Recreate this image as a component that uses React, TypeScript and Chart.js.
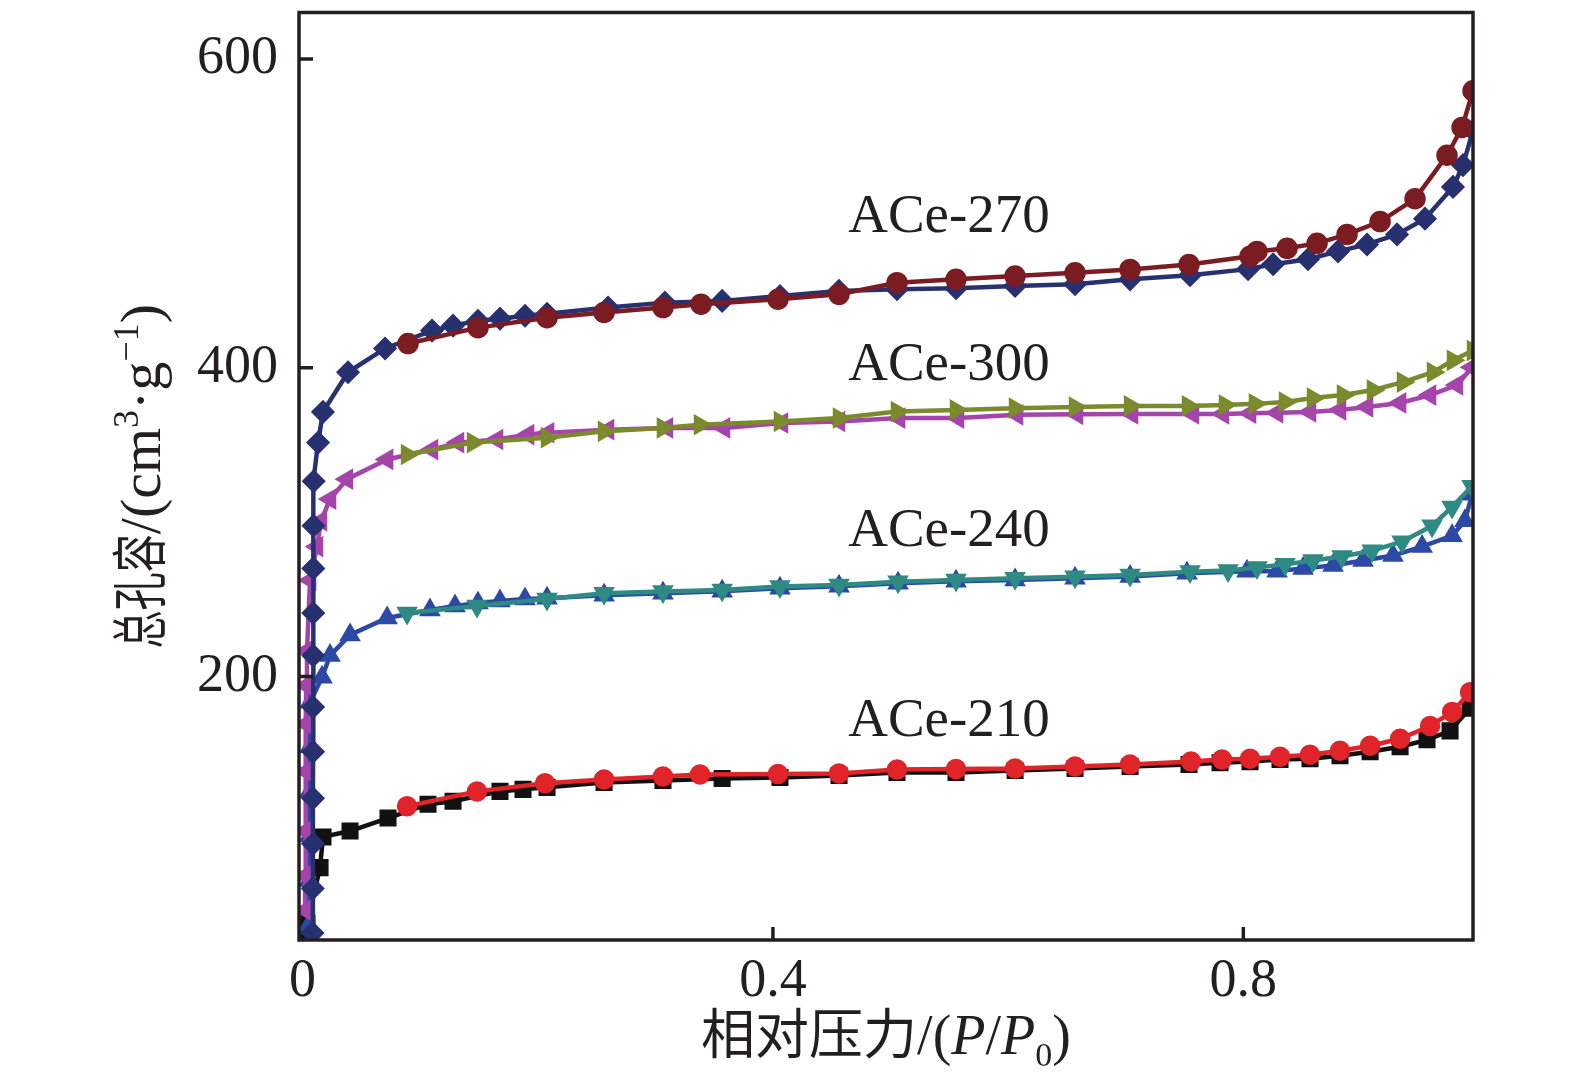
import { useEffect, useRef } from "react";
import { Chart, registerables } from "chart.js";

Chart.register(...registerables);

// ---- axes / labels ----
const xMin = -0.003;
const xMax = 0.9953;
const yMin = 29.2;
const yMax = 630.2;
const xTicks = [0, 0.4, 0.8];
const xTickLabels = ["0", "0.4", "0.8"];
const yTicks = [200, 400, 600];
const yTickLabels = ["200", "400", "600"];
const sampleNames = ["ACe-270", "ACe-300", "ACe-240", "ACe-210"];
const sampleLabelX = [0.464, 0.464, 0.464, 0.464];
const sampleLabelY = [497.3, 401.6, 293.7, 170.5];

// ---- ACe-270 ----
const ace270AdsX = [0.0085, 0.0087, 0.0089, 0.0089, 0.009, 0.009, 0.0091, 0.0091, 0.0092, 0.0093, 0.0095, 0.0132, 0.0174, 0.0387, 0.0702, 0.1101, 0.128, 0.1492, 0.1679, 0.1892, 0.2079, 0.2598, 0.3082, 0.3568, 0.406, 0.4562, 0.5055, 0.5557, 0.6059, 0.6569, 0.7037, 0.7547, 0.804, 0.8253, 0.855, 0.8805, 0.9052, 0.9307, 0.9545, 0.9783, 0.9868, 0.9953];
const ace270AdsY = [33.7, 62.6, 91.5, 121.0, 151.2, 180.1, 213.5, 241.1, 270.0, 297.6, 326.5, 351.5, 371.4, 397.1, 412.5, 424.1, 427.3, 430.5, 431.8, 433.7, 435.0, 439.0, 442.2, 443.3, 446.5, 449.8, 450.9, 451.5, 453.0, 454.1, 457.3, 460.0, 463.9, 467.1, 470.3, 475.4, 479.9, 486.4, 496.6, 517.2, 531.3, 553.8];
const ace270DesX = [0.0897, 0.1492, 0.2079, 0.2564, 0.3065, 0.3389, 0.4043, 0.4562, 0.5055, 0.5557, 0.6059, 0.6569, 0.7037, 0.7538, 0.8057, 0.8116, 0.8372, 0.8627, 0.8882, 0.9163, 0.946, 0.9732, 0.986, 0.9953];
const ace270DesY = [415.7, 426.0, 432.4, 435.8, 439.0, 441.2, 444.4, 447.6, 455.1, 457.3, 459.4, 461.5, 463.7, 466.9, 472.2, 475.4, 477.4, 480.6, 486.4, 494.7, 509.5, 537.7, 555.7, 579.5];

// ---- ACe-300 ----
const ace300AdsX = [0.0021, 0.0023, 0.0025, 0.0027, 0.0029, 0.0031, 0.0038, 0.0064, 0.0123, 0.0157, 0.0234, 0.0378, 0.0719, 0.1101, 0.1322, 0.1654, 0.1918, 0.2088, 0.2598, 0.3099, 0.3584, 0.4077, 0.4562, 0.5073, 0.5574, 0.6076, 0.6586, 0.7054, 0.7572, 0.7827, 0.8057, 0.8287, 0.8567, 0.8822, 0.9052, 0.9333, 0.9588, 0.9817, 0.9945];
const ace300AdsY = [48.5, 70.9, 99.8, 138.4, 169.2, 194.2, 216.7, 262.3, 284.1, 300.8, 314.9, 327.8, 340.6, 347.0, 351.5, 353.5, 356.7, 357.9, 359.9, 361.0, 361.0, 364.2, 365.2, 367.4, 367.4, 369.5, 369.8, 370.1, 370.1, 370.1, 370.5, 370.8, 371.4, 372.7, 374.6, 377.2, 382.3, 388.8, 400.3];
const ace300DesX = [0.0889, 0.145, 0.2079, 0.2564, 0.3065, 0.338, 0.406, 0.4562, 0.5055, 0.5557, 0.6059, 0.6569, 0.7037, 0.753, 0.7844, 0.8099, 0.8355, 0.8593, 0.8848, 0.9103, 0.9358, 0.9613, 0.9783, 0.9953];
const ace300DesY = [343.8, 351.5, 354.7, 358.8, 361.0, 363.1, 365.2, 367.4, 371.6, 372.7, 373.8, 374.6, 375.3, 375.3, 375.9, 376.6, 377.8, 380.4, 382.3, 385.6, 390.7, 397.1, 404.8, 411.2];

// ---- ACe-240 ----
const ace240AdsX = [0.0055, 0.0057, 0.0059, 0.0061, 0.0063, 0.0064, 0.0166, 0.0234, 0.0404, 0.0719, 0.1084, 0.1297, 0.1492, 0.1679, 0.1892, 0.2079, 0.2564, 0.3065, 0.3568, 0.406, 0.4562, 0.5064, 0.5557, 0.6059, 0.6569, 0.7037, 0.7521, 0.8031, 0.8287, 0.8508, 0.8763, 0.9018, 0.9273, 0.952, 0.9775, 0.9885, 0.9945];
const ace240AdsY = [38.9, 67.7, 96.6, 125.5, 154.4, 183.3, 199.4, 213.5, 226.9, 237.9, 243.0, 245.6, 247.5, 248.8, 250.1, 250.7, 252.6, 253.9, 255.2, 257.1, 258.4, 260.4, 261.6, 262.5, 263.6, 264.8, 266.8, 268.1, 268.1, 270.0, 271.9, 275.1, 278.3, 284.1, 291.2, 300.8, 318.1];
const ace240DesX = [0.0889, 0.1484, 0.2079, 0.2564, 0.3065, 0.3568, 0.406, 0.4562, 0.5064, 0.5557, 0.6059, 0.6569, 0.7037, 0.7547, 0.787, 0.8116, 0.8355, 0.8593, 0.8839, 0.9095, 0.935, 0.9605, 0.9775, 0.9945];
const ace240DesY = [241.1, 245.6, 250.1, 253.9, 255.0, 256.0, 258.2, 259.3, 261.4, 262.5, 263.6, 264.6, 265.7, 267.9, 268.7, 270.6, 272.6, 275.1, 277.7, 281.5, 287.3, 297.6, 309.8, 323.3];

// ---- ACe-210 ----
const ace210AdsX = [0.0021, 0.0038, 0.0149, 0.0174, 0.0404, 0.0727, 0.1067, 0.128, 0.1679, 0.1875, 0.2079, 0.2564, 0.3065, 0.3568, 0.406, 0.4562, 0.5055, 0.5557, 0.6059, 0.6569, 0.7037, 0.7538, 0.7802, 0.8057, 0.8312, 0.8567, 0.8822, 0.9078, 0.9333, 0.9562, 0.9758, 0.9928];
const ace210AdsY = [32.4, 40.1, 76.1, 96.0, 99.8, 108.2, 117.2, 119.1, 125.5, 126.8, 128.1, 131.3, 132.6, 133.9, 134.5, 135.8, 137.7, 137.7, 139.0, 140.3, 141.6, 142.9, 144.1, 144.8, 146.1, 146.7, 148.6, 151.2, 154.4, 158.9, 164.7, 179.4];
const ace210DesX = [0.0889, 0.1484, 0.2062, 0.2564, 0.3065, 0.338, 0.4043, 0.4562, 0.5055, 0.5557, 0.6059, 0.6569, 0.7037, 0.7555, 0.7819, 0.8057, 0.8312, 0.8567, 0.8822, 0.9078, 0.9333, 0.9588, 0.9775, 0.9928];
const ace210DesY = [115.9, 125.5, 130.7, 133.2, 135.2, 136.4, 136.7, 137.1, 139.7, 140.0, 140.3, 141.6, 142.9, 144.8, 146.1, 146.7, 148.0, 149.3, 151.8, 155.1, 159.6, 167.9, 176.9, 189.7];

const INK = "#231f20";
const SERIF = '"Liberation Serif", "Times New Roman", serif';
const CJK = '"Noto Sans CJK SC", sans-serif';

type Seg = { t: string; f: string; dy?: number; sx?: number };

function drawRich(ctx: CanvasRenderingContext2D, segs: Seg[], cx: number, y: number) {
  let total = 0;
  const widths: number[] = [];
  for (const s of segs) {
    ctx.font = s.f;
    const w = ctx.measureText(s.t).width * (s.sx ?? 1);
    widths.push(w);
    total += w;
  }
  let x = cx - total / 2;
  segs.forEach((s, i) => {
    ctx.save();
    ctx.font = s.f;
    ctx.translate(x, y + (s.dy ?? 0));
    ctx.scale(s.sx ?? 1, 1);
    ctx.textAlign = "left";
    ctx.textBaseline = "alphabetic";
    ctx.fillText(s.t, 0, 0);
    ctx.restore();
    x += widths[i];
  });
}

const decorPlugin = {
  id: "decor",
  afterDraw(chart: any) {
    const { ctx, chartArea: a, scales } = chart;
    const xs = scales.x;
    const ys = scales.y;
    ctx.save();
    ctx.strokeStyle = INK;
    ctx.lineWidth = 3.5;
    ctx.strokeRect(a.left, a.top, a.right - a.left, a.bottom - a.top);
    ctx.beginPath();
    yTicks.forEach((v) => {
      const p = ys.getPixelForValue(v);
      ctx.moveTo(a.left, p);
      ctx.lineTo(a.left + 14, p);
    });
    xTicks.forEach((v) => {
      if (v === 0) return;
      const p = xs.getPixelForValue(v);
      ctx.moveTo(p, a.bottom);
      ctx.lineTo(p, a.bottom - 13);
    });
    ctx.stroke();

    ctx.fillStyle = INK;
    ctx.font = `54px ${SERIF}`;
    ctx.textAlign = "right";
    ctx.textBaseline = "middle";
    yTicks.forEach((v, i) => ctx.fillText(yTickLabels[i], a.left - 21, ys.getPixelForValue(v)));
    ctx.textAlign = "center";
    xTicks.forEach((v, i) => ctx.fillText(xTickLabels[i], xs.getPixelForValue(v), a.bottom + 42));

    ctx.textAlign = "left";
    ctx.font = `55px ${SERIF}`;
    sampleNames.forEach((n, i) => {
      ctx.fillText(n, xs.getPixelForValue(sampleLabelX[i]), ys.getPixelForValue(sampleLabelY[i]));
    });

    // x title
    const cx = (a.left + a.right) / 2;
    drawRich(
      ctx,
      [
        { t: "相对压力", f: `54px ${CJK}` },
        { t: "/(", f: `56px ${SERIF}` },
        { t: "P", f: `italic 56px ${SERIF}` },
        { t: "/", f: `56px ${SERIF}` },
        { t: "P", f: `italic 56px ${SERIF}` },
        { t: "0", f: `34px ${SERIF}`, dy: 12 },
        { t: ")", f: `56px ${SERIF}` },
      ],
      cx,
      a.bottom + 114
    );

    // y title
    ctx.save();
    ctx.translate(160, (a.top + a.bottom) / 2);
    ctx.rotate(-Math.PI / 2);
    drawRich(
      ctx,
      [
        { t: "总孔容", f: `56px ${CJK}`, sx: 0.68 },
        { t: "/(cm", f: `58px ${SERIF}` },
        { t: "3", f: `36px ${SERIF}`, dy: -22 },
        { t: "·g", f: `58px ${SERIF}` },
        { t: "−1", f: `36px ${SERIF}`, dy: -22 },
        { t: ")", f: `58px ${SERIF}` },
      ],
      0,
      0
    );
    ctx.restore();
    ctx.restore();
  },
};

function series(
  label: string,
  xs: number[],
  ys: number[],
  color: string,
  pointStyle: string,
  radius: number,
  rotation = 0
) {
  return {
    label,
    data: xs.map((x, i) => ({ x, y: ys[i] })),
    borderColor: color,
    backgroundColor: color,
    borderWidth: 4.5,
    pointStyle,
    pointRadius: radius,
    pointHoverRadius: radius,
    pointBorderWidth: 1.5,
    pointBorderColor: color,
    pointBackgroundColor: color,
    pointRotation: rotation,
    tension: 0,
    fill: false,
  };
}

export default function App() {
  const ref = useRef<HTMLCanvasElement>(null);
  useEffect(() => {
    if (!ref.current) return;
    const chart = new Chart(ref.current, {
      type: "line",
      data: {
        datasets: [
          series("ACe-270 desorption", ace270DesX, ace270DesY, "#7a1c22", "circle", 10),
          series("ACe-270 adsorption", ace270AdsX, ace270AdsY, "#283170", "rectRot", 11),
          series("ACe-300 desorption", ace300DesX, ace300DesY, "#7a8a2c", "triangle", 11, 90),
          series("ACe-300 adsorption", ace300AdsX, ace300AdsY, "#a544aa", "triangle", 11, -90),
          series("ACe-240 desorption", ace240DesX, ace240DesY, "#2e8a82", "triangle", 11, 180),
          series("ACe-240 adsorption", ace240AdsX, ace240AdsY, "#2c49a6", "triangle", 11),
          series("ACe-210 desorption", ace210DesX, ace210DesY, "#e0242a", "circle", 9.5),
          series("ACe-210 adsorption", ace210AdsX, ace210AdsY, "#111111", "rect", 11),
        ] as any,
      },
      options: {
        animation: false,
        responsive: false,
        events: [],
        layout: { padding: { left: 299, top: 4, right: 102, bottom: 151 } },
        plugins: { legend: { display: false }, tooltip: { enabled: false } },
        scales: {
          x: { type: "linear", min: xMin, max: xMax, display: false },
          y: { type: "linear", min: yMin, max: yMax, display: false },
        },
      },
      plugins: [decorPlugin],
    });
    return () => chart.destroy();
  }, []);
  return (
    <div style={{ position: "absolute", left: 0, top: 0, width: 1575, height: 1091, background: "#fff" }}>
      <canvas ref={ref} width={1575} height={1091} style={{ width: 1575, height: 1091, display: "block" }} />
    </div>
  );
}
